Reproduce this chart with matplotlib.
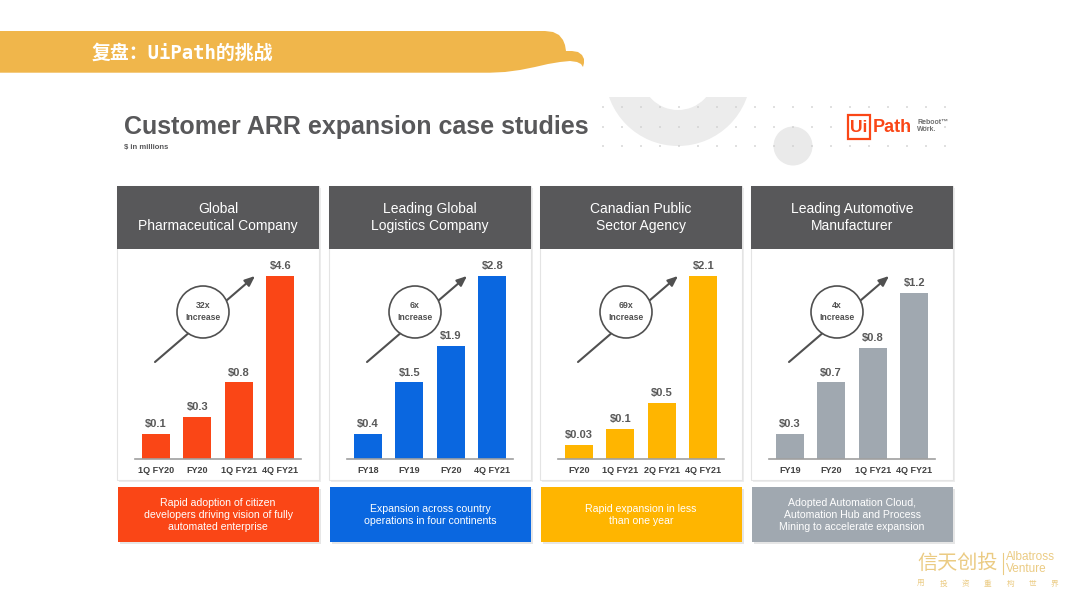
import matplotlib
matplotlib.use('Agg')
import matplotlib.pyplot as plt
from matplotlib.patches import Rectangle, Circle, Wedge, Polygon

plt.rcParams['font.family'] = ['Liberation Sans', 'Noto Sans CJK SC', 'DejaVu Sans']

# data
companies = ['Global\nPharmaceutical Company', 'Leading Global\nLogistics Company',
             'Canadian Public\nSector Agency', 'Leading Automotive\nManufacturer']
periods = [['1Q FY20', 'FY20', '1Q FY21', '4Q FY21'],
           ['FY18', 'FY19', 'FY20', '4Q FY21'],
           ['FY20', '1Q FY21', '2Q FY21', '4Q FY21'],
           ['FY19', 'FY20', '1Q FY21', '4Q FY21']]
arr_values = [[0.1, 0.3, 0.8, 4.6],
              [0.4, 1.5, 1.9, 2.8],
              [0.03, 0.1, 0.5, 2.1],
              [0.3, 0.7, 0.8, 1.2]]
# the slide does not draw bars to scale: relative bar heights as drawn
drawn_heights = [[0.137, 0.23, 0.42, 1.0],
                 [0.137, 0.42, 0.62, 1.0],
                 [0.077, 0.164, 0.306, 1.0],
                 [0.137, 0.42, 0.607, 0.907]]
multipliers = ['32x', '6x', '69x', '4x']
notes = ['Rapid adoption of citizen\ndevelopers driving vision of fully\nautomated enterprise',
         'Expansion across country\noperations in four continents',
         'Rapid expansion in less\nthan one year',
         'Adopted Automation Cloud,\nAutomation Hub and Process\nMining to accelerate expansion']
colors = ['#FA4616', '#0A67E0', '#FFB500', '#A0A8B0']

W, H = 1080, 605
fig = plt.figure(figsize=(W / 100, H / 100), dpi=100)
bg = fig.add_axes([0, 0, 1, 1])
bg.set_xlim(0, W)
bg.set_ylim(H, 0)
bg.axis('off')

# top banner with curled tail
banner = [(0, 31), (545, 31), (553, 32), (559, 35), (563, 40), (565, 45), (566, 51),
          (572, 51), (578, 52), (582, 55), (584, 59), (584, 63), (583, 67), (581, 64),
          (577, 62), (570, 61), (560, 62), (548, 64), (535, 67), (520, 70), (505, 72),
          (490, 72.7), (0, 72.7)]
bg.add_patch(Polygon(banner, closed=True, facecolor='#F0B64B', edgecolor='none'))
bg.text(92, 53, '复盘：UiPath的挑战', color='white', fontsize=13.6, fontweight='bold',
        family=['DejaVu Sans Mono', 'Noto Sans CJK SC'], va='center', ha='left')

# decoration: ring, circle, dot grid
ring = Wedge((678, 73), 73, 0, 360, width=36, facecolor='#ECECEC', edgecolor='none')
bg.add_patch(ring)
clip = Rectangle((590, 97), 200, 80, transform=bg.transData)
ring.set_clip_path(clip)
bg.add_patch(Circle((793, 146), 19.5, facecolor='#EAEAEA', edgecolor='none'))
for ry in [107, 127, 146]:
    for k in range(19):
        bg.add_patch(Circle((603 + 19 * k, ry), 0.9, facecolor='#CFCFCF', edgecolor='none'))

# title
bg.text(124, 127, 'Customer ARR expansion case studies', fontsize=18, fontweight='bold',
        color='#58585A', va='center', ha='left')
bg.text(124, 148, '$ in millions', fontsize=5.5, fontweight='bold', color='#58585A',
        va='center', ha='left')

# UiPath logo
bg.add_patch(Rectangle((848, 115), 22, 24, facecolor='white', edgecolor='#FA4616', lw=1.6))
bg.text(859, 127.5, 'Ui', color='#FA4616', fontsize=12.5, fontweight='bold', ha='center', va='center')
bg.text(873, 127.5, 'Path', color='#FA4616', fontsize=13, fontweight='bold', ha='left', va='center')
bg.text(917, 122, 'Reboot™', color='#6E6E6E', fontsize=5, fontweight='bold', ha='left', va='center')
bg.text(917, 129.5, 'Work.', color='#6E6E6E', fontsize=5, fontweight='bold', ha='left', va='center')

# panels
lefts = [117, 329, 540, 751]
pw = 202
for p, L in enumerate(lefts):
    bg.add_patch(Rectangle((L + 1.5, 187.5), pw, 294, facecolor='#EDEDED', edgecolor='none'))
    bg.add_patch(Rectangle((L, 186), pw, 294, facecolor='white', edgecolor='#E4E4E4', lw=0.8))
    bg.add_patch(Rectangle((L, 186), pw, 63, facecolor='#58585A', edgecolor='none'))
    bg.text(L + pw / 2, 217.5, companies[p], color='white', fontsize=10, ha='center',
            va='center', linespacing=1.2)

    bg.add_patch(Rectangle((L + 2.5, 488.5), pw - 1, 55, facecolor='#E6E6E6', edgecolor='none'))
    bg.add_patch(Rectangle((L + 1, 487), pw - 1, 55, facecolor=colors[p], edgecolor='none'))
    bg.text(L + pw / 2, 514.5, notes[p], color='white', fontsize=7.6, ha='center', va='center',
            linespacing=1.25)

    # growth arrow with circle
    bg.annotate('', xy=(L + 138, 276), xytext=(L + 38, 362),
                arrowprops=dict(arrowstyle='-|>,head_length=0.6,head_width=0.25',
                                color='#505050', lw=1.5, shrinkA=0, shrinkB=0))
    bg.add_patch(Circle((L + 86, 312), 26, facecolor='white', edgecolor='#505050', lw=1.2, zorder=5))
    bg.text(L + 86, 305.5, multipliers[p], color='#505050', fontsize=6.3, fontweight='bold',
            ha='center', va='center', zorder=6)
    bg.text(L + 86, 317.5, 'Increase', color='#505050', fontsize=6.2, fontweight='bold',
            ha='center', va='center', zorder=6)

    # bars
    ax = fig.add_axes([(L + 18) / W, 1 - 459 / H, 166 / W, 183 / H])
    ax.patch.set_alpha(0)
    ax.bar(range(4), drawn_heights[p], width=0.67, color=colors[p])
    for i, v in enumerate(arr_values[p]):
        ax.text(i, drawn_heights[p][i] + 0.025, f'${v:g}', ha='center', va='bottom',
                fontsize=8, fontweight='bold', color='#595959')
    ax.set_xlim(-0.5, 3.5)
    ax.set_ylim(0, 1)
    ax.set_xticks(range(4), periods[p], fontsize=6.5, fontweight='bold', color='#404040')
    ax.tick_params(axis='x', length=0, pad=5)
    ax.set_yticks([])
    for s in ['top', 'left', 'right']:
        ax.spines[s].set_visible(False)
    ax.spines['bottom'].set_color('#A0A0A0')
    ax.spines['bottom'].set_linewidth(1.2)

# watermark
gold = '#EBCB83'
bg.text(917, 563, '信天创投', color=gold, fontsize=14.5, ha='left', va='center',
        family=['Noto Sans CJK SC'])
bg.plot([1003, 1003], [553, 574], color=gold, lw=0.8)
bg.text(1006, 557.5, 'Albatross', color=gold, fontsize=8.5, ha='left', va='center')
bg.text(1006, 569.5, 'Venture', color=gold, fontsize=8.5, ha='left', va='center')
for k, ch in enumerate('用投资重构世界'):
    bg.text(921 + k * 22.3, 584, ch, color=gold, fontsize=5.5, ha='center', va='center',
            family=['Noto Sans CJK SC'])

fig.savefig('out.png', dpi=100)
